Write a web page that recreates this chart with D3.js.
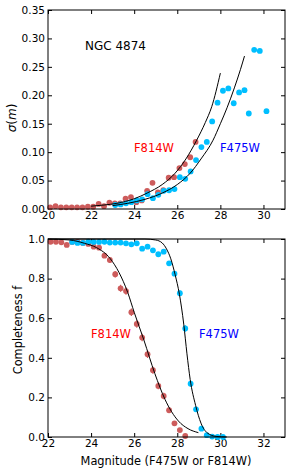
<!DOCTYPE html>
<html lang="en">
<head>
<meta charset="utf-8">
<title>NGC 4874 photometric errors and completeness</title>
<style type="text/css">
  body { margin: 0; padding: 0; background: #fff; }
  svg { display: block; font-family: "DejaVu Sans", sans-serif; }
</style>
<script src="https://cdn.jsdelivr.net/npm/d3@7"></script>
</head>
<body>
<div id="root"></div>
<script>
// ---- top panel: sigma(m) ----
var sigMagRed = [20.1, 20.35, 20.6, 20.85, 21.1, 21.35, 21.6, 21.85, 22.1, 22.35, 22.6, 22.85, 23.1, 23.35,
                 23.6, 23.85, 24.1, 24.35, 24.6, 24.85, 25.1, 25.35, 25.6, 25.85, 26.1, 26.35, 26.6, 26.85];
var sigRed = [0.003, 0.005, 0.003, 0.003, 0.003, 0.003, 0.003, 0.004, 0.004, 0.009, 0.005, 0.011, 0.010, 0.010,
              0.018, 0.021, 0.012, 0.015, 0.032, 0.046, 0.029, 0.033, 0.055, 0.056, 0.072, 0.079, 0.091, 0.118];

var sigMagBlue = [23.12, 23.37, 23.62, 23.87, 24.12, 24.37, 24.62, 24.87, 25.12, 25.37, 25.62, 25.87, 26.12, 26.37, 26.62,
                  26.87, 27.12, 27.37, 27.62, 27.87, 28.12, 28.37, 28.62, 28.87, 29.12, 29.32, 29.57, 29.83, 30.14];
var sigBlue = [0.007, 0.008, 0.010, 0.012, 0.015, 0.017, 0.026, 0.019, 0.025, 0.032, 0.033, 0.035, 0.056, 0.053, 0.066,
               0.086, 0.109, 0.118, 0.154, 0.187, 0.208, 0.212, 0.186, 0.205, 0.209, 0.168, 0.280, 0.278, 0.172];

// fitted curves
var sigFitRedMag = [22.0, 22.6, 23.2, 24.0, 24.6, 25.3, 25.9, 26.4, 26.9, 27.3, 27.6, 28.0];
var sigFitRed    = [0.005, 0.007, 0.010, 0.018, 0.028, 0.043, 0.063, 0.088, 0.121, 0.152, 0.180, 0.239];
var sigFitBlueMag = [23.0, 23.7, 24.5, 25.3, 26.0, 26.6, 27.1, 27.66, 28.0, 28.31, 28.65, 28.93, 29.12];
var sigFitBlue    = [0.006, 0.010, 0.017, 0.028, 0.043, 0.063, 0.088, 0.121, 0.150, 0.178, 0.213, 0.245, 0.269];

// ---- bottom panel: completeness ----
var compMagRed = [22.12, 22.37, 22.62, 22.87, 23.12, 23.37, 23.62, 23.87, 24.12, 24.37, 24.62, 24.87, 25.12,
                  25.37, 25.62, 25.87, 26.12, 26.37, 26.62, 26.87, 27.12, 27.37, 27.62, 27.87, 28.12, 28.37];
var compRed = [0.986, 0.986, 0.983, 0.970, 0.985, 0.985, 0.980, 0.975, 0.961, 0.956, 0.916, 0.894, 0.822,
               0.751, 0.737, 0.630, 0.571, 0.502, 0.418, 0.337, 0.258, 0.207, 0.135, 0.069, 0.035, 0.005];
var compRedErr = [0.004, 0.004, 0.004, 0.005, 0.004, 0.004, 0.005, 0.006, 0.008, 0.009, 0.012, 0.013, 0.016,
                  0.018, 0.018, 0.019, 0.019, 0.019, 0.019, 0.018, 0.017, 0.016, 0.013, 0.010, 0.007, 0.003];

var compMagBlue = [23.12, 23.37, 23.62, 23.87, 24.12, 24.37, 24.62, 24.87, 25.12, 25.37, 25.62, 25.87, 26.12, 26.37, 26.62,
                   26.87, 27.12, 27.37, 27.62, 27.87, 28.12, 28.37, 28.62, 28.87, 29.12, 29.37, 29.62, 29.87, 30.12];
var compBlue = [0.985, 0.980, 0.980, 0.986, 0.985, 0.985, 0.986, 0.982, 0.982, 0.982, 0.978, 0.973, 0.978, 0.951, 0.961,
                0.943, 0.923, 0.936, 0.877, 0.825, 0.726, 0.548, 0.269, 0.140, 0.042, 0.009, 0.002, 0.000, 0.000];
var compBlueErr = [0.003, 0.003, 0.003, 0.003, 0.003, 0.003, 0.003, 0.003, 0.003, 0.003, 0.004, 0.004, 0.004, 0.006, 0.006,
                   0.007, 0.008, 0.008, 0.010, 0.012, 0.014, 0.016, 0.015, 0.011, 0.006, 0.003, 0.002, 0.001, 0.001];

var compFitRedMag = [22.0, 23.0, 23.7, 24.26, 24.88, 25.3, 25.7, 26.0, 26.45, 26.96, 27.43, 28.05, 28.5, 28.98];
var compFitRed    = [1.0, 0.995, 0.978, 0.956, 0.902, 0.83, 0.73, 0.63, 0.49, 0.32, 0.19, 0.081, 0.042, 0.022];
var compFitBlueMag = [22.0, 26.5, 27.0, 27.3, 27.5, 27.7, 27.9, 28.1, 28.3, 28.45, 28.6, 28.85, 29.1, 29.4, 29.8, 30.3];
var compFitBlue    = [1.0, 1.0, 0.995, 0.98, 0.95, 0.90, 0.82, 0.72, 0.57, 0.42, 0.29, 0.16, 0.07, 0.02, 0.003, 0.0];

var sigXTicks = [20, 22, 24, 26, 28, 30];
var sigYTicks = [0, 0.05, 0.10, 0.15, 0.20, 0.25, 0.30, 0.35];
var compXTicks = [22, 24, 26, 28, 30, 32];
var compYTicks = [0, 0.2, 0.4, 0.6, 0.8, 1.0];

var W = 291, H = 473;
var redCol = "#cd5c5c", blueCol = "#00bfff";
var tickFont = "10.5px";

var svg = d3.select("#root").append("svg")
    .attr("width", W).attr("height", H);

function zip(a, b) { return a.map(function(d, i) { return [d, b[i]]; }); }

function panel(opt) {
  var x = d3.scaleLinear().domain(opt.xDomain).range([48, 285]);
  var y = d3.scaleLinear().domain(opt.yDomain).range([opt.bottom, opt.top]);
  var g = svg.append("g");

  // axes with inward ticks on all sides
  var bx = g.append("g").attr("transform", "translate(0," + opt.bottom + ")")
      .call(d3.axisBottom(x).tickValues(opt.xTicks).tickSize(-4).tickSizeOuter(0).tickPadding(3).tickFormat(d3.format("d")));
  var ly = g.append("g").attr("transform", "translate(48,0)")
      .call(d3.axisLeft(y).tickValues(opt.yTicks).tickSize(-4).tickSizeOuter(0).tickPadding(3).tickFormat(d3.format(opt.yFmt)));
  g.append("g").attr("transform", "translate(0," + opt.top + ")")
      .call(d3.axisTop(x).tickValues(opt.xTicks).tickSize(-4).tickSizeOuter(0).tickFormat(""));
  g.append("g").attr("transform", "translate(285,0)")
      .call(d3.axisRight(y).tickValues(opt.yTicks).tickSize(-4).tickSizeOuter(0).tickFormat(""));
  g.selectAll(".domain").remove();
  g.selectAll(".tick line").attr("stroke", "#000");
  g.selectAll(".tick text").attr("fill", "#000")
      .style("font-family", "DejaVu Sans, sans-serif").style("font-size", tickFont);

  // error bars
  (opt.errs || []).forEach(function(e) {
    g.append("g").selectAll("line").data(d3.range(e.m.length)).enter().append("line")
      .attr("x1", function(i) { return x(e.m[i]); })
      .attr("x2", function(i) { return x(e.m[i]); })
      .attr("y1", function(i) { return y(e.v[i] - e.e[i]); })
      .attr("y2", function(i) { return y(e.v[i] + e.e[i]); })
      .attr("stroke", e.color).attr("stroke-width", 1.2);
  });

  // points
  opt.points.forEach(function(p) {
    g.append("g").selectAll("circle").data(zip(p.m, p.v)).enter().append("circle")
      .attr("cx", function(d) { return x(d[0]); })
      .attr("cy", function(d) { return y(d[1]); })
      .attr("r", 2.9)
      .attr("fill", p.color)
      .attr("fill-opacity", p.alpha || 1);
  });

  // fit curves
  var line = d3.line().curve(d3.curveMonotoneX)
      .x(function(d) { return x(d[0]); })
      .y(function(d) { return y(d[1]); });
  opt.fits.forEach(function(f) {
    g.append("path").datum(zip(f.m, f.v))
      .attr("d", line).attr("fill", "none")
      .attr("stroke", "#000").attr("stroke-width", 1);
  });

  // frame
  g.append("rect").attr("x", 48).attr("y", opt.top)
    .attr("width", 237).attr("height", opt.bottom - opt.top)
    .attr("fill", "none").attr("stroke", "#000").attr("stroke-width", 1);

  return { g: g, x: x, y: y };
}

var top = panel({
  xDomain: [20, 31], yDomain: [0, 0.35], top: 10, bottom: 209,
  xTicks: sigXTicks, yTicks: sigYTicks, yFmt: ".2f",
  points: [
    { m: sigMagRed, v: sigRed, color: redCol },
    { m: sigMagBlue, v: sigBlue, color: blueCol }
  ],
  fits: [
    { m: sigFitRedMag, v: sigFitRed },
    { m: sigFitBlueMag, v: sigFitBlue }
  ]
});

var bot = panel({
  xDomain: [22, 33], yDomain: [0, 1], top: 239, bottom: 437,
  xTicks: compXTicks, yTicks: compYTicks, yFmt: ".1f",
  errs: [
    { m: compMagRed, v: compRed, e: compRedErr, color: redCol },
    { m: compMagBlue, v: compBlue, e: compBlueErr, color: blueCol }
  ],
  points: [
    { m: compMagRed, v: compRed, color: redCol },
    { m: compMagBlue, v: compBlue, color: blueCol }
  ],
  fits: [
    { m: compFitRedMag, v: compFitRed },
    { m: compFitBlueMag, v: compFitBlue }
  ]
});

// labels
function label(txt, x, y, color, size) {
  return svg.append("text").attr("x", x).attr("y", y)
    .attr("fill", color).style("font-size", size).text(txt);
}
label("NGC 4874", 85, 50, "#000", "12px");
label("F814W", 134, 152, "#ff0000", "11.5px");
label("F475W", 220, 152, "#0000ff", "11.5px");
label("F814W", 91, 338, "#ff0000", "11.5px");
label("F475W", 199, 338, "#0000ff", "11.5px");

svg.append("text")
  .attr("x", 166).attr("y", 465)
  .attr("text-anchor", "middle")
  .style("font-size", "11.4px")
  .text("Magnitude (F475W or F814W)");

svg.append("text")
  .attr("transform", "translate(22,330) rotate(-90)")
  .attr("text-anchor", "middle")
  .style("font-size", "11.4px")
  .text("Completeness f");

var sl = svg.append("text")
  .attr("transform", "translate(16,118) rotate(-90)")
  .attr("text-anchor", "middle")
  .style("font-size", "12px");
sl.append("tspan").style("font-style", "italic").text("σ");
sl.append("tspan").text("(");
sl.append("tspan").style("font-style", "italic").text("m");
sl.append("tspan").text(")");
</script>
</body>
</html>
